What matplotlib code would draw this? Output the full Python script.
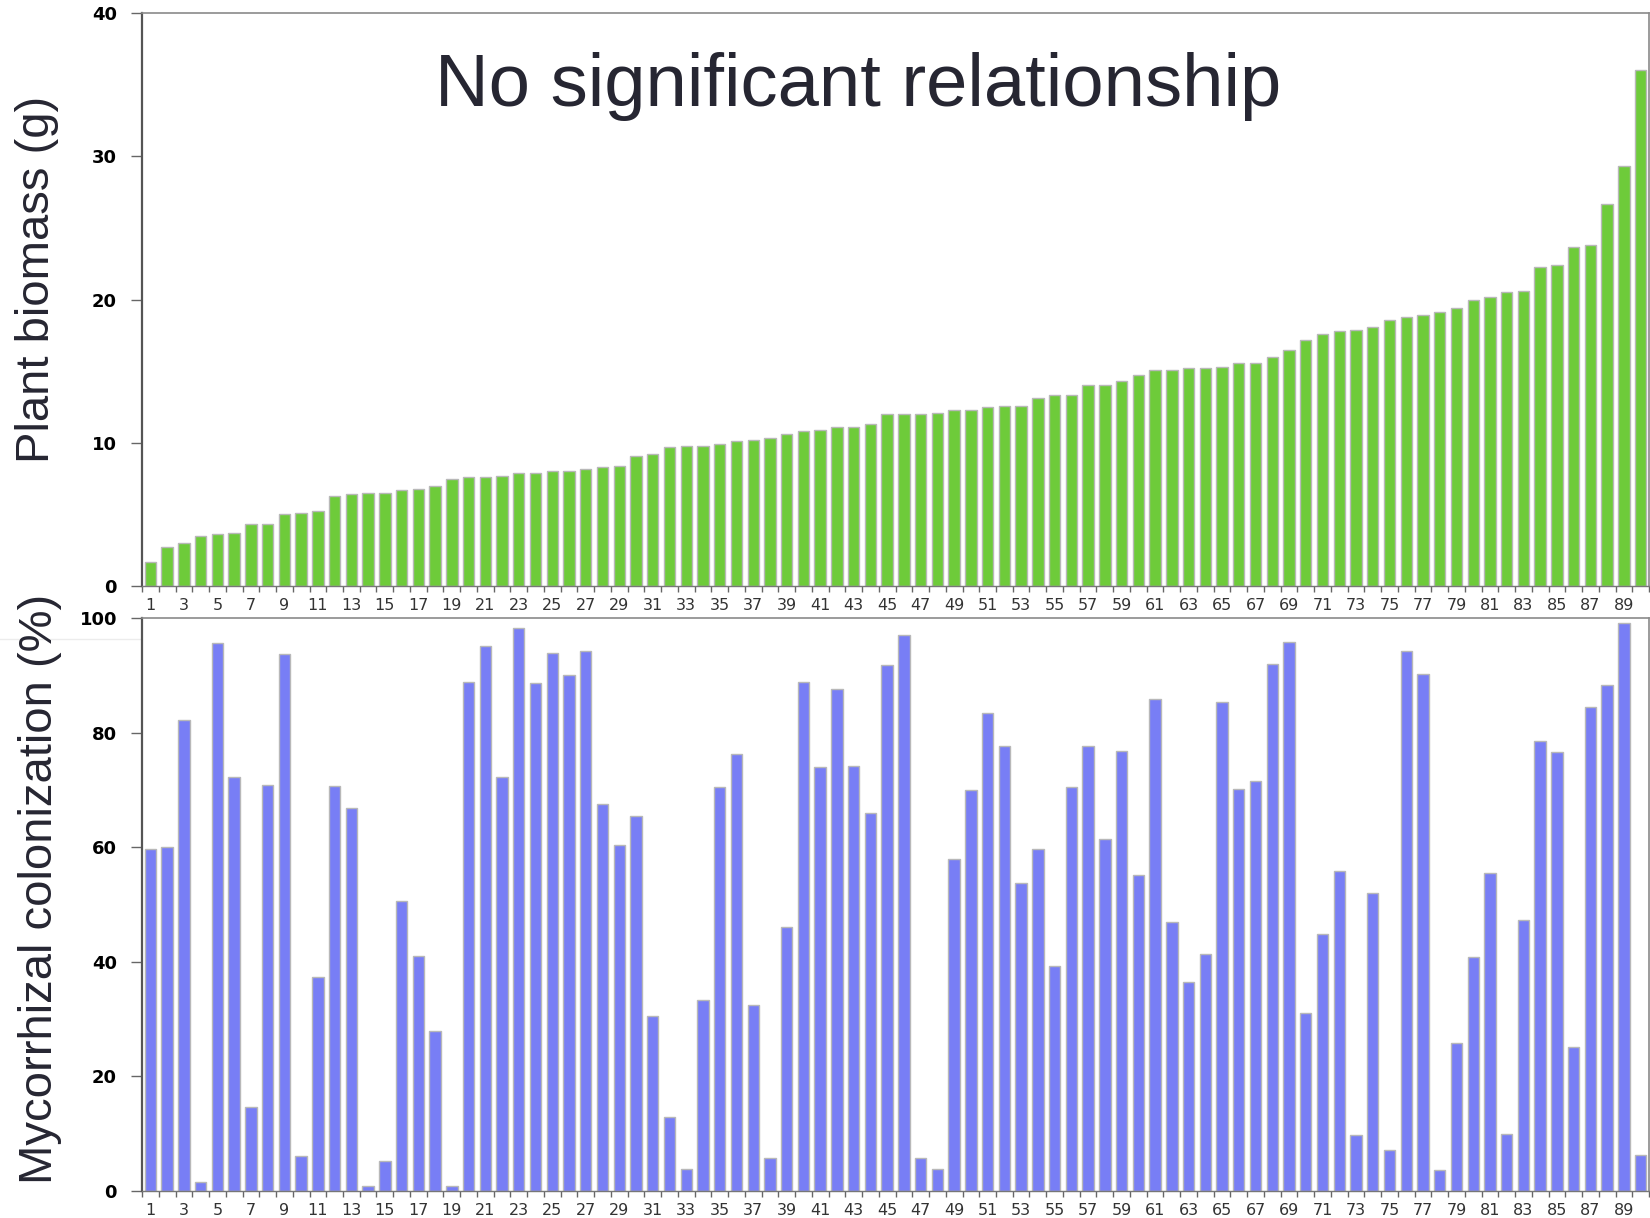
import numpy as np
import matplotlib.pyplot as plt
from matplotlib.lines import Line2D

# plant index 1..90
plants = np.arange(1, 91)

# Plant biomass (g), sorted ascending
biomass = [1.7, 2.7, 3.0, 3.5, 3.6, 3.7, 4.3, 4.3, 5.0, 5.1,
           5.2, 6.3, 6.4, 6.5, 6.5, 6.7, 6.8, 7.0, 7.5, 7.6,
           7.6, 7.7, 7.9, 7.9, 8.0, 8.0, 8.2, 8.3, 8.4, 9.1,
           9.2, 9.7, 9.8, 9.8, 9.9, 10.1, 10.2, 10.3, 10.6, 10.8,
           10.9, 11.1, 11.1, 11.3, 12.0, 12.0, 12.0, 12.1, 12.3, 12.3,
           12.5, 12.6, 12.6, 13.1, 13.3, 13.3, 14.0, 14.0, 14.3, 14.7,
           15.1, 15.1, 15.2, 15.2, 15.3, 15.6, 15.6, 16.0, 16.5, 17.2,
           17.6, 17.8, 17.9, 18.1, 18.6, 18.8, 18.9, 19.1, 19.4, 20.0,
           20.2, 20.5, 20.6, 22.3, 22.4, 23.7, 23.8, 26.7, 29.3, 36.0]

# Mycorrhizal colonization (%)
colonization = [59.6, 60.1, 82.2, 1.6, 95.7, 72.2, 14.7, 70.9, 93.8, 6.1,
                37.4, 70.6, 66.8, 0.9, 5.3, 50.6, 41.0, 27.9, 0.8, 88.9,
                95.1, 72.2, 98.2, 88.6, 93.9, 90.0, 94.3, 67.6, 60.3, 65.4,
                30.6, 12.9, 3.9, 33.3, 70.5, 76.2, 32.4, 5.8, 46.1, 88.9,
                74.0, 87.6, 74.2, 65.9, 91.8, 97.0, 5.8, 3.8, 58.0, 70.0,
                83.4, 77.7, 53.7, 59.7, 39.2, 70.5, 77.7, 61.4, 76.8, 55.2,
                85.9, 46.9, 36.4, 41.4, 85.4, 70.2, 71.5, 91.9, 95.9, 31.1,
                44.8, 55.8, 9.8, 52.0, 7.1, 94.2, 90.2, 3.6, 25.9, 40.9,
                55.5, 9.9, 47.3, 78.6, 76.7, 25.1, 84.4, 88.3, 99.2, 6.2]

fig = plt.figure(figsize=(16.5, 12.18), dpi=100)
ax1 = fig.add_axes([0.0861, 0.5189, 0.9133, 0.4704])
ax2 = fig.add_axes([0.0861, 0.0222, 0.9133, 0.4704])


def style_axis(ax, values, color, ymax, step):
    ax.bar(plants, values, width=0.68, color=color, edgecolor='#b8b8b8', linewidth=1, zorder=2)
    ax.set_xlim(0.5, 90.5)
    ax.set_ylim(0, ymax)
    ax.set_yticks(np.arange(0, ymax + 1, step))
    ax.tick_params(axis='y', direction='out', length=8, width=1, color='#666666',
                   labelsize=13, pad=10)
    for lab in ax.get_yticklabels():
        lab.set_fontweight('bold')
    ax.set_xticks(plants[::2])
    ax.set_xticklabels([str(p) for p in plants[::2]])
    ax.set_xticks(np.arange(0.5, 91, 1), minor=True)
    ax.tick_params(axis='x', which='major', length=0, labelsize=11.5, labelcolor='#333333', pad=9)
    ax.tick_params(axis='x', which='minor', direction='out', length=4, width=1, color='#666666')
    ax.spines['left'].set_color('#555555')
    ax.spines['left'].set_linewidth(1.6)
    ax.spines['bottom'].set_color('#777777')
    ax.spines['bottom'].set_linewidth(1)
    for s in ['top', 'right']:
        ax.spines[s].set_color('#8a8a8a')
        ax.spines[s].set_linewidth(1.2)


style_axis(ax1, biomass, '#6ecb3a', 40, 10)
style_axis(ax2, colonization, '#787ef5', 100, 20)

fig.text(858 / 1650, 1 - 106 / 1218, 'No significant relationship', ha='center', va='baseline',
         fontsize=53.5, family='Liberation Sans', color='#262632')
fig.text(37 / 1650, 1 - 279 / 1218, 'Plant biomass (g)', rotation=90, ha='center', va='center',
         fontsize=34, family='Liberation Sans', color='#262632')
fig.text(40 / 1650, 1 - 889 / 1218, 'Mycorrhizal colonization (%)', rotation=90, ha='center',
         va='center', fontsize=34, family='Liberation Sans', color='#262632')

# faint guide line from the slide behind the chart
fig.add_artist(Line2D([0, 1], [1 - 639 / 1218, 1 - 639 / 1218], transform=fig.transFigure,
                      color='#ececec', linewidth=1, zorder=0))

fig.savefig('out.png', dpi=100)
